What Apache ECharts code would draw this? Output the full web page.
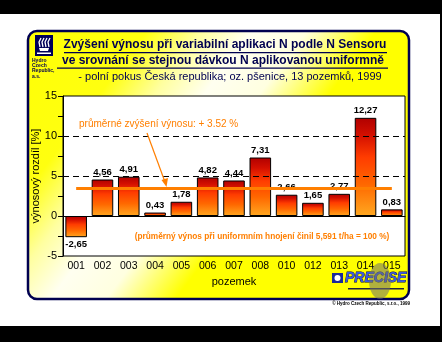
<!DOCTYPE html>
<html>
<head>
<meta charset="utf-8">
<script src="https://cdn.jsdelivr.net/npm/echarts@6/dist/echarts.min.js"></script>
<style>
html,body{margin:0;padding:0;background:#fff;}
#c{width:442px;height:342px;}
</style>
</head>
<body>
<div id="c"></div>
<script>
// ---- data ----
var categories = ['001','002','003','004','005','006','007','008','010','012','013','014','015'];
var yieldDiff = [-2.65, 4.56, 4.91, 0.43, 1.78, 4.82, 4.44, 7.31, 2.66, 1.65, 2.77, 12.27, 0.83];
var averageIncrease = 3.52;
var yTicks = [-5, 0, 5, 10, 15];
var dashedLevels = [5, 10];

var titleLine1 = 'Zvýšení výnosu při variabilní aplikaci N podle N Sensoru';
var titleLine2 = 've srovnání se stejnou dávkou N aplikovanou uniformně';
var subtitle = '- polní pokus Česká republika; oz. pšenice, 13 pozemků, 1999';
var avgText = 'průměrné zvýšení výnosu: + 3.52 %';
var noteText = '(průměrný výnos při uniformním hnojení činil 5,591 t/ha = 100 %)';

var chart = echarts.init(document.getElementById('c'), null, {renderer:'canvas'});
var FONT = 'Liberation Sans, Arial, sans-serif';
var ORANGE = '#ff7f00';
var NAVY = '#000050';

var barGradient = new echarts.graphic.LinearGradient(0,0,0,1,[
  {offset:0, color:'#b00000'},
  {offset:0.18, color:'#d41000'},
  {offset:0.4, color:'#ff3c00'},
  {offset:0.68, color:'#ff6800'},
  {offset:1, color:'#ffa820'}
]);

var panelGradient = new echarts.graphic.LinearGradient(0,0,320,240,[
  {offset:0, color:'#ffff00'},
  {offset:0.34, color:'#ffff10'},
  {offset:0.45, color:'#ffffa0'},
  {offset:0.55, color:'#fffff0'},
  {offset:0.66, color:'#ffffe0'},
  {offset:0.74, color:'#ffff60'},
  {offset:0.8, color:'#ffff00'},
  {offset:1, color:'#ffff00'}
], true);

var barData = yieldDiff.map(function(v){
  return {value:v, label:{position: v < 0 ? 'bottom' : 'top'}};
});

var option = {
  animation:false,
  backgroundColor:'#fff',
  grid:{left:63, top:96, width:342, height:160, show:true, backgroundColor:'#fff', borderColor:'#000', borderWidth:1},
  xAxis:{
    type:'category', data:categories,
    name:'pozemek', nameLocation:'middle', nameGap:20,
    nameTextStyle:{fontFamily:FONT, fontSize:11, color:'#000'},
    axisLine:{lineStyle:{color:'#000', width:1}},
    axisTick:{alignWithLabel:true, length:4, lineStyle:{color:'#000'}},
    axisLabel:{fontFamily:FONT, fontSize:10.5, color:'#000', margin:5, interval:0}
  },
  yAxis:{
    type:'value', min:yTicks[0], max:yTicks[yTicks.length-1], interval:2.5,
    name:'výnosový rozdíl [%]', nameLocation:'middle', nameGap:22, nameMoveOverlap:false,
    nameTextStyle:{fontFamily:FONT, fontSize:11, color:'#000'},
    axisLine:{show:true, lineStyle:{color:'#000'}},
    axisTick:{show:true, length:5, lineStyle:{color:'#000'}},
    axisLabel:{fontFamily:FONT, fontSize:11, color:'#000', margin:6,
      formatter:function(v){ return yTicks.indexOf(v) >= 0 ? String(v) : ''; }},
    splitLine:{show:false}
  },
  series:[{
    type:'bar', data:barData, barCategoryGap:'18%',
    itemStyle:{color:barGradient, borderColor:'#000', borderWidth:1},
    label:{show:true, fontFamily:FONT, fontSize:9.5, fontWeight:'bold', color:'#000', distance:2,
      formatter:function(p){ return p.value.toFixed(2).replace('.', ','); }},
    markLine:{
      silent:true, symbol:'none', animation:false,
      label:{show:false},
      data:[
        {yAxis:dashedLevels[0], lineStyle:{color:'#000', type:[6,4], width:1}},
        {yAxis:dashedLevels[1], lineStyle:{color:'#000', type:[6,4], width:1}},
        [{coord:[categories[0], averageIncrease], lineStyle:{color:ORANGE, type:'solid', width:3}},
         {coord:[categories[categories.length-1], averageIncrease]}]
      ]
    }
  }],
  graphic:[
    // frame bands
    {type:'rect', z:-100, shape:{x:0,y:0,width:442,height:14}, style:{fill:'#000'}},
    {type:'rect', z:-100, shape:{x:0,y:326,width:442,height:16}, style:{fill:'#000'}},
    {type:'rect', z:-100, shape:{x:440,y:0,width:2,height:342}, style:{fill:'#000'}},
    // panel
    {type:'rect', z:-90, shape:{x:28,y:31,width:381,height:268,r:9}, style:{fill:panelGradient, stroke:NAVY, lineWidth:2.5}},
    // Hydro logo
    {type:'rect', z:50, shape:{x:35,y:35,width:18,height:21}, style:{fill:'#00005a'}},
    {type:'polygon', z:51, shape:{points:[[39,48],[49,48],[48,51],[40,51]]}, style:{fill:'#fff'}},
    {type:'polyline', z:51, shape:{points:[[40,47],[39,42],[41,38]]}, style:{stroke:'#fff', lineWidth:1.3, fill:null}},
    {type:'polyline', z:51, shape:{points:[[43,47],[42,42],[44,38]]}, style:{stroke:'#fff', lineWidth:1.3, fill:null}},
    {type:'polyline', z:51, shape:{points:[[46,47],[45,42],[47,38]]}, style:{stroke:'#fff', lineWidth:1.3, fill:null}},
    {type:'polyline', z:51, shape:{points:[[49,47],[48,42],[50,38]]}, style:{stroke:'#fff', lineWidth:1.3, fill:null}},
    {type:'rect', z:51, shape:{x:37,y:52.5,width:14,height:1.5}, style:{fill:'#fff'}},
    {type:'text', z:50, x:32, y:58, style:{text:'Hydro\nCzech\nRepublic,\na.s.', fontFamily:FONT, fontSize:5, lineHeight:5.2, fontWeight:'bold', fill:NAVY}},
    // titles
    {type:'text', z:50, x:225, y:45, style:{text:titleLine1, fontFamily:FONT, fontSize:12, fontWeight:'bold', fill:NAVY, align:'center', textVerticalAlign:'middle'}},
    {type:'rect', z:50, shape:{x:64,y:52,width:323,height:1.2}, style:{fill:NAVY}},
    {type:'text', z:50, x:223, y:61, style:{text:titleLine2, fontFamily:FONT, fontSize:12, fontWeight:'bold', fill:NAVY, align:'center', textVerticalAlign:'middle'}},
    {type:'rect', z:50, shape:{x:57,y:67.5,width:331,height:1.2}, style:{fill:NAVY}},
    {type:'text', z:50, x:230, y:77, style:{text:subtitle, fontFamily:FONT, fontSize:11, fill:NAVY, align:'center', textVerticalAlign:'middle'}},
    // annotations
    {type:'text', z:60, x:79, y:124, style:{text:avgText, fontFamily:FONT, fontSize:10, fill:ORANGE, align:'left', textVerticalAlign:'middle'}},
    {type:'line', z:60, shape:{x1:147,y1:133,x2:165,y2:182}, style:{stroke:ORANGE, lineWidth:1.2}},
    {type:'polygon', z:60, shape:{points:[[166.5,187],[161.5,180],[168,178]]}, style:{fill:ORANGE}},
    {type:'text', z:60, x:262, y:237, style:{text:noteText, fontFamily:FONT, fontSize:8.3, fontWeight:'bold', fill:ORANGE, align:'center', textVerticalAlign:'middle'}},
    // PRECISE logo
    {type:'rect', z:50, shape:{x:332,y:273,width:11,height:10}, style:{fill:'#1a2a9a'}},
    {type:'circle', z:51, shape:{cx:337.5,cy:278,r:3}, style:{fill:'#fff'}},
    {type:'text', z:50, x:345, y:278.5, style:{text:'PRECISE', fontFamily:FONT, fontSize:14, fontWeight:'bold', fontStyle:'italic', fill:'#3a58e0', stroke:'#000040', lineWidth:0.8, align:'left', textVerticalAlign:'middle'}},
    {type:'rect', z:50, shape:{x:348,y:288,width:56,height:1.6}, style:{fill:'#202040'}},
    {type:'ellipse', z:52, shape:{cx:380,cy:281,rx:11,ry:18}, style:{fill:'#707070', opacity:0.55}},
    // copyright
    {type:'text', z:50, x:410, y:304, style:{text:'© Hydro Czech Republic, s.r.o., 1999', fontFamily:FONT, fontSize:4.5, fontWeight:'bold', fill:'#000', align:'right', textVerticalAlign:'middle'}}
  ]
};
chart.setOption(option);
</script>
</body>
</html>
